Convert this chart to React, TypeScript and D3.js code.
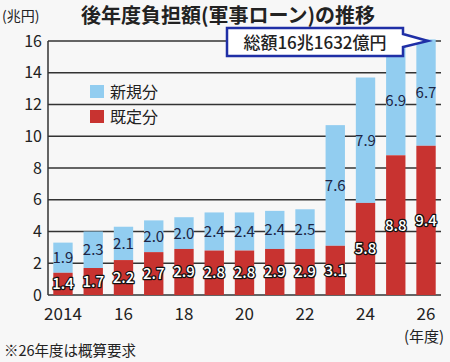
import React from "react";
import * as d3 from "d3";

const years = ["2014","2015","2016","2017","2018","2019","2020","2021","2022","2023","2024","2025","2026"];
const tickYears = ["2014","2016","2018","2020","2022","2024","2026"];
const tickYearLabels = ["2014","16","18","20","22","24","26"];
const existing = [1.4,1.7,2.2,2.7,2.9,2.8,2.8,2.9,2.9,3.1,5.8,8.8,9.4];
const newPart = [1.9,2.3,2.1,2.0,2.0,2.4,2.4,2.4,2.5,7.6,7.9,6.9,6.7];
const yTicks = [0,2,4,6,8,10,12,14,16];

const W = 450, H = 362;
const FONT = "'Noto Sans CJK JP', 'Noto Sans', sans-serif";
const BLUE = "#92cdf0";
const RED = "#c83330";

export default function App() {
  const x = d3.scaleBand<string>().domain(years).range([48, 441]).paddingInner(0.36).paddingOuter(0.175);
  const y = d3.scaleLinear().domain([0, 16]).range([295, 41]);
  const bw = x.bandwidth();
  return (
    <svg width={W} height={H} style={{ position: "absolute", left: 0, top: 0, background: "#f7f7f7" }} fontFamily={FONT}>
      <rect x={0} y={0} width={W} height={H} fill="#f7f7f7" />
      <text x={2} y={21} fontSize={14} fill="#222">(兆円)</text>
      <text x={228} y={23} fontSize={20} fontWeight={700} textAnchor="middle" fill="#222">後年度負担額(軍事ローン)の推移</text>
      {yTicks.map(t => (
        <g key={t}>
          <line x1={48} x2={441} y1={y(t)} y2={y(t)} stroke="#333" strokeWidth={1.5} />
          <text x={42} y={y(t) + 5.5} fontSize={16} textAnchor="end" fill="#222">{t}</text>
        </g>
      ))}
      <line x1={48} x2={48} y1={y(16)} y2={y(0)} stroke="#333" strokeWidth={1.5} />
      {years.map((yr, i) => {
        const x0 = x(yr)!;
        const e = existing[i], n = newPart[i];
        return (
          <g key={yr}>
            <rect x={x0} width={bw} y={y(e + n)} height={y(e) - y(e + n)} fill={BLUE} />
            <rect x={x0} width={bw} y={y(e)} height={y(0) - y(e)} fill={RED} />
            <text x={x0 + bw / 2} y={(y(e) + y(e + n)) / 2 + 5.5} fontSize={15} textAnchor="middle" fill="#1c2444">{n.toFixed(1)}</text>
            <text x={x0 + bw / 2} y={(y(0) + y(e)) / 2 + 5.5} fontSize={15} fontWeight={500} textAnchor="middle" fill="#fff" stroke="#111" strokeWidth={2.5} paintOrder="stroke" strokeLinejoin="round">{e.toFixed(1)}</text>
          </g>
        );
      })}
      {tickYears.map((yr, i) => (
        <text key={yr} x={x(yr)! + bw / 2} y={320} fontSize={17} textAnchor="middle" fill="#222">{tickYearLabels[i]}</text>
      ))}
      <text x={x("2026")! + bw / 2 - 2} y={342} fontSize={15} textAnchor="middle" fill="#222">(年度)</text>
      <text x={4} y={356} fontSize={14.5} fill="#222">※26年度は概算要求</text>
      <rect x={90} y={85} width={14} height={13} fill={BLUE} />
      <text x={110} y={97.5} fontSize={16} fill="#222">新規分</text>
      <rect x={90} y={110} width={14} height={13} fill={RED} />
      <text x={110} y={122.5} fontSize={16} fill="#222">既定分</text>
      <path d={`M227,28 H403 V34 L428,41 L403,47 V56 H227 Z`} fill="#fff" stroke="#1f2fa6" strokeWidth={2.5} strokeLinejoin="miter" />
      <text x={315} y={48.5} fontSize={17} fontWeight={500} textAnchor="middle" fill="#222">総額16兆1632億円</text>
    </svg>
  );
}
